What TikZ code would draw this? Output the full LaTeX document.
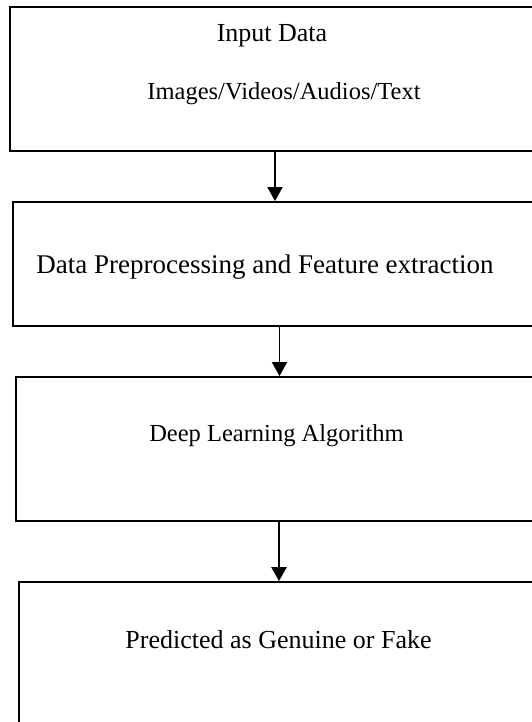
\documentclass[tikz,border=0pt]{standalone}
\usepackage{fontspec}
\setmainfont{Liberation Serif}
\usetikzlibrary{arrows.meta}
\begin{document}
\begin{tikzpicture}[x=1pt,y=-1pt,
  stagebox/.style={draw=black,line width=1.8pt,rectangle,inner sep=0pt,fill=none},
  label/.style={anchor=base,inner sep=0pt},
  flow/.style={draw=black,line width=1.8pt,-{Triangle[width=15pt,length=14pt]}}]
  \useasboundingbox (0,0) rectangle (532,722);
  \clip (0,0) rectangle (532,722);
  % stage boxes (right and bottom sides run past the frame)
  \node[stagebox,minimum width=530pt,minimum height=144pt] (b1) at (275,79) {};
  \node[stagebox,minimum width=527pt,minimum height=124pt] (b2) at (276.5,264) {};
  \node[stagebox,minimum width=524pt,minimum height=144pt] (b3) at (278,449) {};
  \node[stagebox,minimum width=521pt,minimum height=158pt] (b4) at (279.5,661) {};
  % captions
  \node[label,font=\fontsize{26}{30}\selectfont] (t1a) at (272,41.5) {Input Data};
  \node[label,font=\fontsize{24.5}{28}\selectfont] (t1b) at (284,100) {Images/Videos/Audios/Text};
  \node[label,font=\fontsize{27}{30}\selectfont] (t2) at (265,273) {Data Preprocessing and Feature extraction};
  \node[label,font=\fontsize{24.5}{28}\selectfont] (t3) at (276.5,441) {Deep Learning Algorithm};
  \node[label,font=\fontsize{26}{30}\selectfont] (t4) at (278.5,648) {Predicted as Genuine or Fake};
  % connectors
  \draw[flow] (b1.south) -- (b1.south |- b2.north);
  \draw[flow] ([xshift=3pt]b2.south) -- ([xshift=3pt]b2.south |- b3.north);
  \draw[flow,line width=2.6pt] ([xshift=1pt]b3.south) -- ([xshift=1pt]b3.south |- b4.north);
\end{tikzpicture}
\end{document}
